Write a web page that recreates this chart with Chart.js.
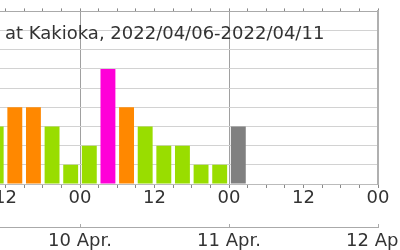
<!DOCTYPE html>
<html><head><meta charset="utf-8">
<script src="https://cdn.jsdelivr.net/npm/chart.js@4.4.0/dist/chart.umd.min.js"></script>
<style>
html,body{margin:0;padding:0;background:#fff;overflow:hidden;width:400px;height:250px;}
#wrap{position:absolute;left:-600px;top:0;width:1050px;height:250px;}
</style></head><body>
<div id="wrap"><canvas id="c" width="1050" height="250"></canvas></div>
<script>
// hours since 2022-04-06 00:00 (start of each 3-hour interval)
const startHours = [81, 84, 87, 90, 93, 96, 99, 102, 105, 108, 111, 114, 117, 120];
const kValues    = [3, 4, 4, 3, 1, 2, 6, 4, 3, 2, 2, 1, 1, 3];
const provisional = [false, false, false, false, false, false, false, false, false, false, false, false, false, true];
const dayLabels = ['6 Apr.', '7 Apr.', '8 Apr.', '9 Apr.', '10 Apr.', '11 Apr.', '12 Apr.'];
const hourLabels = {0: '00', 12: '12'};
const titleText = 'K index at Kakioka, 2022/04/06-2022/04/11';

const FONT = 'DejaVu Sans';
function barColor(k, prov) {
  if (prov) return '#808080';
  if (k >= 5) return '#ff00d8';
  if (k === 4) return '#ff8800';
  return '#99dd00';
}

const titlePlugin = {
  id: 'titleText',
  afterDraw(chart) {
    const ctx = chart.ctx;
    ctx.save();
    ctx.font = '18px "' + FONT + '"';
    ctx.fillStyle = '#333';
    ctx.textBaseline = 'alphabetic';
    const w = ctx.measureText('K index ').width;
    ctx.fillText(titleText, 605 - w, 39);
    // small upward ticks on the date axis
    const s = chart.scales.x3;
    ctx.strokeStyle = '#aaa';
    ctx.lineWidth = 1;
    s.ticks.forEach(t => {
      const px = Math.round(s.getPixelForValue(t.value)) + 0.5;
      ctx.beginPath();
      ctx.moveTo(px, s.top);
      ctx.lineTo(px, s.top - 3);
      ctx.stroke();
    });
    ctx.restore();
  }
};

new Chart(document.getElementById('c'), {
  type: 'bar',
  data: {
    datasets: [{
      data: startHours.map((h, i) => ({x: h + 1.5, y: kValues[i]})),
      backgroundColor: kValues.map((k, i) => barColor(k, provisional[i])),
      borderWidth: 0,
      barPercentage: 1,
      categoryPercentage: 0.8
    }]
  },
  options: {
    responsive: false,
    animation: false,
    devicePixelRatio: 1,
    layout: {padding: {left: 0, right: 72, top: 0, bottom: 0}},
    plugins: {legend: {display: false}, tooltip: {enabled: false}, title: {display: false}},
    scales: {
      x: {
        type: 'linear', position: 'bottom', min: 0, max: 144, offset: false, weight: 0,
        ticks: {
          stepSize: 3, autoSkip: false, maxRotation: 0, padding: 0,
          font: {family: FONT, size: 18}, color: '#333',
          callback: v => (hourLabels[v % 24] !== undefined ? hourLabels[v % 24] : '')
        },
        grid: {
          offset: false, drawOnChartArea: true, drawTicks: true, tickLength: 4,
          color: c => (c.tick && c.tick.value % 24 === 0 ? '#a0a0a0' : 'rgba(0,0,0,0)'),
          tickColor: '#888'
        },
        border: {display: true, color: '#bbb', width: 1},
        afterFit: s => { s.height = 43; }
      },
      x3: {
        type: 'linear', position: 'bottom', min: 0, max: 144, offset: false, weight: 1,
        ticks: {
          stepSize: 24, autoSkip: false, maxRotation: 0, padding: 4,
          font: {family: FONT, size: 18}, color: '#333',
          callback: v => dayLabels[v / 24]
        },
        grid: {offset: false, drawOnChartArea: false, drawTicks: false},
        border: {display: true, color: '#aaa', width: 1},
        afterFit: s => { s.height = 23; }
      },
      x2: {
        type: 'linear', position: 'top', min: 0, max: 144, offset: false,
        ticks: {stepSize: 3, autoSkip: false, display: false},
        grid: {offset: false, drawOnChartArea: false, drawTicks: true, tickLength: 3, tickColor: '#888'},
        border: {display: true, color: '#aaa', width: 1},
        afterFit: s => { s.height = 3; }
      },
      y: {
        min: 0, max: 9, position: 'left',
        ticks: {stepSize: 1, autoSkip: false, font: {family: FONT, size: 14}, color: '#333'},
        grid: {color: '#d2d2d2', drawTicks: true, tickLength: 4},
        border: {display: true, color: '#aaa'},
        afterFit: s => { s.width = 84; }
      },
      y2: {
        min: 0, max: 9, position: 'right',
        ticks: {display: false},
        grid: {drawOnChartArea: false, drawTicks: false},
        border: {display: true, color: '#b0b0b0', width: 2},
        afterFit: s => { s.width = 0; }
      }
    }
  },
  plugins: [titlePlugin]
});
</script>
</body></html>
